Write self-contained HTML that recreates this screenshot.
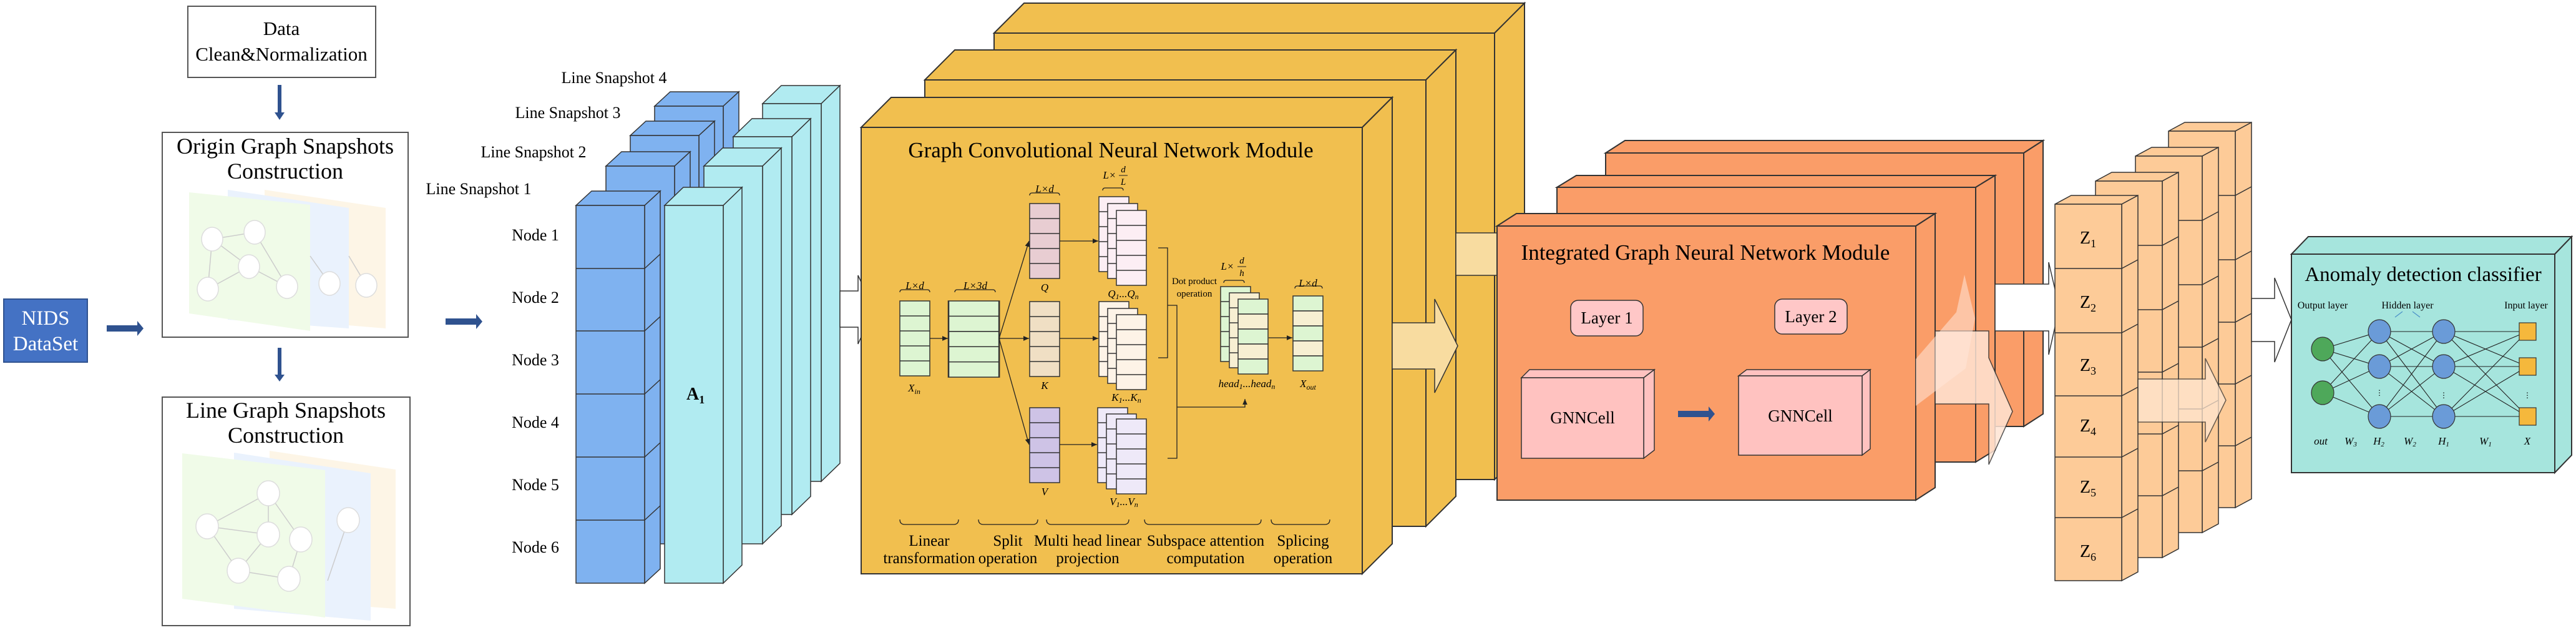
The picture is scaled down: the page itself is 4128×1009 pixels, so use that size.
<!DOCTYPE html>
<html><head><meta charset="utf-8"><style>html,body{margin:0;padding:0;background:#fff}svg{display:block}svg text{font-family:"Liberation Serif","Times New Roman",serif}</style></head>
<body>
<svg width="4128" height="1009" viewBox="0 0 4128 1009" xmlns="http://www.w3.org/2000/svg">
<defs>
<g id="c5"><rect x="0" y="0" width="48" height="120" stroke="#333" stroke-width="1.5"/><line x1="0" y1="24" x2="48" y2="24" stroke="#333" stroke-width="1.5"/><line x1="0" y1="48" x2="48" y2="48" stroke="#333" stroke-width="1.5"/><line x1="0" y1="72" x2="48" y2="72" stroke="#333" stroke-width="1.5"/><line x1="0" y1="96" x2="48" y2="96" stroke="#333" stroke-width="1.5"/></g>
<marker id="ah" markerWidth="8" markerHeight="8" refX="7" refY="4" orient="auto"><path d="M0,1 L7,4 L0,7 z" fill="#222"/></marker>
</defs>

<rect x="301" y="10" width="301" height="114" fill="#fff" stroke="#555" stroke-width="2"/>
<text x="451" y="56" font-size="31" text-anchor="middle">Data</text>
<text x="451" y="97" font-size="31" text-anchor="middle">Clean&amp;Normalization</text>
<rect x="445" y="136" width="6" height="46" fill="#2F528F"/><polygon points="440,180 456,180 448,192" fill="#2F528F"/>

<rect x="260" y="212" width="394" height="328" fill="#fff" stroke="#555" stroke-width="2"/>
<text x="457" y="246" font-size="36" text-anchor="middle">Origin Graph Snapshots</text>
<text x="457" y="286" font-size="36" text-anchor="middle">Construction</text>
<polygon points="424,304 618,333 618,526 424,510" fill="#FDF5E6"/>
<polygon points="365,304 559,333 559,526 365,512" fill="#EAF2FD"/>
<polygon points="303,308 497,328 497,530 303,502" fill="#F0FBE8"/>
<g stroke="#ccc" stroke-width="1.5" fill="none"><line x1="340" y1="383" x2="408" y2="372"/><line x1="340" y1="383" x2="399" y2="427"/><line x1="340" y1="383" x2="333" y2="463"/><line x1="408" y1="372" x2="460" y2="459"/><line x1="399" y1="427" x2="333" y2="463"/><line x1="399" y1="427" x2="460" y2="459"/><line x1="497" y1="410" x2="528" y2="454"/><line x1="559" y1="410" x2="587" y2="457"/></g>
<g fill="#fff" stroke="#ddd" stroke-width="1.5"><ellipse cx="340" cy="383" rx="17" ry="19"/><ellipse cx="408" cy="372" rx="17" ry="19"/><ellipse cx="399" cy="427" rx="17" ry="19"/><ellipse cx="333" cy="463" rx="17" ry="19"/><ellipse cx="460" cy="459" rx="17" ry="19"/><ellipse cx="528" cy="454" rx="17" ry="19"/><ellipse cx="587" cy="457" rx="17" ry="19"/></g>
<rect x="445" y="557" width="6" height="44" fill="#2F528F"/><polygon points="440,600 456,600 448,611" fill="#2F528F"/>

<rect x="260" y="636" width="397" height="366" fill="#fff" stroke="#555" stroke-width="2"/>
<text x="458" y="669" font-size="36" text-anchor="middle">Line Graph Snapshots</text>
<text x="458" y="709" font-size="36" text-anchor="middle">Construction</text>
<polygon points="432,722 634,752 634,975 432,960" fill="#FDF5E6"/>
<polygon points="375,725 594,758 594,994 375,975" fill="#EAF2FD"/>
<polygon points="292,726 521,753 521,989 292,959" fill="#F0FBE8"/>
<g stroke="#ccc" stroke-width="1.5"><line x1="332" y1="843" x2="430" y2="790"/><line x1="332" y1="843" x2="430" y2="856"/><line x1="332" y1="843" x2="382" y2="914"/><line x1="430" y1="790" x2="430" y2="856"/><line x1="430" y1="790" x2="482" y2="864"/><line x1="430" y1="856" x2="382" y2="914"/><line x1="382" y1="914" x2="463" y2="927"/><line x1="482" y1="864" x2="463" y2="927"/><line x1="558" y1="833" x2="525" y2="930"/></g>
<g fill="#fff" stroke="#ddd" stroke-width="1.5"><ellipse cx="332" cy="843" rx="18" ry="20"/><ellipse cx="430" cy="790" rx="18" ry="20"/><ellipse cx="430" cy="856" rx="18" ry="20"/><ellipse cx="482" cy="864" rx="18" ry="20"/><ellipse cx="382" cy="914" rx="18" ry="20"/><ellipse cx="463" cy="927" rx="18" ry="20"/><ellipse cx="558" cy="833" rx="18" ry="20"/></g>

<rect x="6" y="479" width="134" height="101" fill="#4472C4" stroke="#2F528F" stroke-width="2"/>
<text x="73" y="520" font-size="33" fill="#fff" text-anchor="middle">NIDS</text>
<text x="73" y="561" font-size="33" fill="#fff" text-anchor="middle">DataSet</text>
<rect x="171" y="521" width="50" height="10" fill="#2F528F"/><polygon points="220,514 230,526 220,538" fill="#2F528F"/>
<rect x="714" y="510" width="50" height="10" fill="#2F528F"/><polygon points="763,503 773,515 763,527" fill="#2F528F"/>

<g font-size="26" text-anchor="middle">
<text x="984" y="133">Line Snapshot 4</text><text x="910" y="189">Line Snapshot 3</text><text x="855" y="252">Line Snapshot 2</text><text x="767" y="311">Line Snapshot 1</text>
<text x="858" y="385">Node 1</text><text x="858" y="485">Node 2</text><text x="858" y="585">Node 3</text><text x="858" y="685">Node 4</text><text x="858" y="785">Node 5</text><text x="858" y="885">Node 6</text>
</g>

<g stroke="#333" stroke-width="1.5">
<polygon points="1049,170 1074,147 1184,147 1159,170" fill="#7FB2F0"/><polygon points="1159,170 1184,147 1184,752 1159,775" fill="#7FB2F0"/><rect x="1049" y="170" width="110" height="605" fill="#7FB2F0"/>
<polygon points="1222,166 1252,137 1346,137 1316,166" fill="#B1EBF1"/><polygon points="1316,166 1346,137 1346,742 1316,771" fill="#B1EBF1"/><rect x="1222" y="166" width="94" height="605" fill="#B1EBF1"/>
<polygon points="1010,217 1035,194 1145,194 1120,217" fill="#7FB2F0"/><polygon points="1120,217 1145,194 1145,799 1120,822" fill="#7FB2F0"/><rect x="1010" y="217" width="110" height="605" fill="#7FB2F0"/>
<polygon points="1175,219 1205,190 1299,190 1269,219" fill="#B1EBF1"/><polygon points="1269,219 1299,190 1299,795 1269,824" fill="#B1EBF1"/><rect x="1175" y="219" width="94" height="605" fill="#B1EBF1"/>
<polygon points="971,266 996,243 1106,243 1081,266" fill="#7FB2F0"/><polygon points="1081,266 1106,243 1106,848 1081,871" fill="#7FB2F0"/><rect x="971" y="266" width="110" height="605" fill="#7FB2F0"/>
<polygon points="1128,266 1158,237 1252,237 1222,266" fill="#B1EBF1"/><polygon points="1222,266 1252,237 1252,842 1222,871" fill="#B1EBF1"/><rect x="1128" y="266" width="94" height="605" fill="#B1EBF1"/>
<polygon points="923,329 948,306 1058,306 1033,329" fill="#7FB2F0"/><polygon points="1033,329 1058,306 1058,911 1033,934" fill="#7FB2F0"/><rect x="923" y="329" width="110" height="605" fill="#7FB2F0"/>
<line x1="923" y1="430" x2="1033" y2="430"/><line x1="923" y1="530" x2="1033" y2="530"/><line x1="923" y1="631" x2="1033" y2="631"/><line x1="923" y1="732" x2="1033" y2="732"/><line x1="923" y1="833" x2="1033" y2="833"/>
<line x1="1033" y1="430" x2="1058" y2="407"/><line x1="1033" y1="530" x2="1058" y2="507"/><line x1="1033" y1="631" x2="1058" y2="608"/><line x1="1033" y1="732" x2="1058" y2="709"/><line x1="1033" y1="833" x2="1058" y2="810"/>
<polygon points="1065,329 1095,300 1189,300 1159,329" fill="#B1EBF1"/><polygon points="1159,329 1189,300 1189,905 1159,934" fill="#B1EBF1"/><rect x="1065" y="329" width="94" height="605" fill="#B1EBF1"/>
</g>
<text x="1100" y="640" font-size="28" font-weight="bold">A<tspan font-size="18" dy="6">1</tspan></text>

<polygon points="1346,466 1375,466 1375,441 1400,495 1375,551 1375,524 1346,524" fill="#fff" stroke="#333" stroke-width="1.5"/>

<g stroke="#333" stroke-width="2" fill="#F1BF4F">
<polygon points="1593,53 1641,5 2443,5 2395,53"/><polygon points="2395,53 2443,5 2443,720 2395,768"/><rect x="1593" y="53" width="802" height="715"/>
<polygon points="1482,128 1530,80 2333,80 2285,128"/><polygon points="2285,128 2333,80 2333,795 2285,843"/><rect x="1482" y="128" width="803" height="715"/>
<polygon points="1380,204 1428,156 2231,156 2183,204"/><polygon points="2183,204 2231,156 2231,871 2183,919"/><rect x="1380" y="204" width="803" height="715"/>
</g>
<rect x="2333" y="373" width="66" height="68" fill="#F8DCA0" stroke="#333" stroke-width="1.5"/>
<text x="1780" y="252" font-size="35" text-anchor="middle">Graph Convolutional Neural Network Module</text>

<g font-style="italic" font-size="17" text-anchor="middle">
<use href="#c5" x="1442" y="482" fill="#DDF5D2"/>
<g transform="translate(1520,482) scale(1.69,1.017)"><use href="#c5" fill="#DDF5D2"/></g>
<use href="#c5" x="1650" y="326" fill="#E8CDD2"/>
<use href="#c5" x="1650" y="483" fill="#F0DFC4"/>
<use href="#c5" x="1650" y="653" fill="#CEC3E6"/>
<use href="#c5" x="1761" y="315" fill="#FCEEF4"/><use href="#c5" x="1775" y="326" fill="#FCEEF4"/><use href="#c5" x="1789" y="337" fill="#FCEEF4"/>
<use href="#c5" x="1761" y="483" fill="#FDF3E7"/><use href="#c5" x="1775" y="494" fill="#FDF3E7"/><use href="#c5" x="1789" y="504" fill="#FDF3E7"/>
<use href="#c5" x="1759" y="653" fill="#EEE9F8"/><use href="#c5" x="1773" y="663" fill="#EEE9F8"/><use href="#c5" x="1789" y="671" fill="#EEE9F8"/>
<use href="#c5" x="1956" y="459" fill="#DDF5D2"/><use href="#c5" x="1970" y="469" fill="#F7EFD2"/>
<g stroke="#333" stroke-width="1.5"><rect x="1984" y="479" width="48" height="24" fill="#DDF5D2"/><rect x="1984" y="503" width="48" height="24" fill="#F7EFD2"/><rect x="1984" y="527" width="48" height="24" fill="#DDF5D2"/><rect x="1984" y="551" width="48" height="24" fill="#F7EFD2"/><rect x="1984" y="575" width="48" height="24" fill="#DDF5D2"/>
<rect x="2072" y="474" width="48" height="24" fill="#DDF5D2"/><rect x="2072" y="498" width="48" height="24" fill="#F7EFD2"/><rect x="2072" y="522" width="48" height="24" fill="#DDF5D2"/><rect x="2072" y="546" width="48" height="24" fill="#F7EFD2"/><rect x="2072" y="570" width="48" height="24" fill="#DDF5D2"/></g>
<g stroke="#222" stroke-width="1.3" fill="none">
<line x1="1490" y1="542" x2="1519" y2="542" marker-end="url(#ah)"/>
<line x1="1601" y1="542" x2="1649" y2="386" marker-end="url(#ah)"/>
<line x1="1601" y1="542" x2="1649" y2="542" marker-end="url(#ah)"/>
<line x1="1601" y1="542" x2="1649" y2="712" marker-end="url(#ah)"/>
<line x1="1698" y1="386" x2="1760" y2="386" marker-end="url(#ah)"/>
<line x1="1698" y1="542" x2="1760" y2="542" marker-end="url(#ah)"/>
<line x1="1698" y1="712" x2="1758" y2="712" marker-end="url(#ah)"/>
<polyline points="1856,397 1871,397 1871,573 1856,573"/>
<polyline points="1871,489 1886,489 1886,734 1871,734"/>
<polyline points="1886,652 1995,652 1995,639" marker-end="url(#ah)"/>
<line x1="2033" y1="541" x2="2071" y2="541" marker-end="url(#ah)"/>
<path d="M1442,468 q0,-4 4,-4 h40 q4,0 4,4"/><path d="M1530,468 q0,-4 4,-4 h57 q4,0 4,4"/><path d="M1650,313 q0,-4 4,-4 h40 q4,0 4,4"/><path d="M1767,305 q0,-4 4,-4 h25 q4,0 4,4"/><path d="M1961,453 q0,-4 4,-4 h25 q4,0 4,4"/><path d="M2075,462 q0,-4 4,-4 h36 q4,0 4,4"/>
<path d="M1442,832 q0,8 8,8 h78 q8,0 8,-8"/><path d="M1568,832 q0,8 8,8 h79 q8,0 8,-8"/><path d="M1677,832 q0,8 8,8 h116 q8,0 8,-8"/><path d="M1834,832 q0,8 8,8 h171 q8,0 8,-8"/><path d="M2037,832 q0,8 8,8 h78 q8,0 8,-8"/>
</g>
<text x="1466" y="463">L×d</text><text x="1563" y="463">L×3d</text><text x="1674" y="308">L×d</text><text x="2096" y="459">L×d</text>
<text x="1778" y="286">L×</text><text x="1800" y="276" font-size="15">d</text><line x1="1793" y1="281" x2="1807" y2="281" stroke="#222"/><text x="1800" y="296" font-size="15">L</text>
<text x="1967" y="432">L×</text><text x="1990" y="422" font-size="15">d</text><line x1="1983" y1="427" x2="1997" y2="427" stroke="#222"/><text x="1990" y="442" font-size="15">h</text>
<text x="1465" y="627">X<tspan font-size="12" dy="4">in</tspan></text>
<text x="1674" y="466">Q</text><text x="1674" y="623">K</text><text x="1674" y="793">V</text>
<text x="1800" y="476">Q<tspan font-size="12" dy="3">1</tspan><tspan dy="-3">...Q</tspan><tspan font-size="12" dy="3">n</tspan></text>
<text x="1805" y="642">K<tspan font-size="12" dy="3">1</tspan><tspan dy="-3">...K</tspan><tspan font-size="12" dy="3">n</tspan></text>
<text x="1801" y="809">V<tspan font-size="12" dy="3">1</tspan><tspan dy="-3">...V</tspan><tspan font-size="12" dy="3">n</tspan></text>
<text x="1998" y="620">head<tspan font-size="12" dy="3">1</tspan><tspan dy="-3">...head</tspan><tspan font-size="12" dy="3">n</tspan></text>
<text x="2096" y="620">X<tspan font-size="12" dy="4">out</tspan></text>
</g>
<text x="1914" y="455" font-size="15" text-anchor="middle">Dot product</text>
<text x="1914" y="475" font-size="15" text-anchor="middle">operation</text>
<g font-size="25" text-anchor="middle">
<text x="1489" y="874">Linear</text><text x="1489" y="902">transformation</text>
<text x="1615" y="874">Split</text><text x="1615" y="902">operation</text>
<text x="1743" y="874">Multi head linear</text><text x="1743" y="902">projection</text>
<text x="1932" y="874">Subspace attention</text><text x="1932" y="902">computation</text>
<text x="2088" y="874">Splicing</text><text x="2088" y="902">operation</text>
</g>

<polygon points="2231,517 2299,517 2299,479 2336,554 2299,629 2299,591 2231,591" fill="#F8DCA0" stroke="#333" stroke-width="1.5"/>

<g stroke="#333" stroke-width="2" fill="#FA9D68">
<polygon points="2573,245 2604,225 3274,225 3243,245"/><polygon points="3243,245 3274,225 3274,663 3243,683"/><rect x="2573" y="245" width="670" height="438"/>
<polygon points="2495,300 2526,281 3197,281 3166,300"/><polygon points="3166,300 3197,281 3197,721 3166,740"/><rect x="2495" y="300" width="671" height="440"/>
<polygon points="2399,362 2430,342 3101,342 3070,362"/><polygon points="3070,362 3101,342 3101,781 3070,801"/><rect x="2399" y="362" width="671" height="439"/>
</g>
<text x="2733" y="416" font-size="35" text-anchor="middle">Integrated Graph Neural Network Module</text>
<rect x="2517" y="481" width="116" height="57" rx="12" fill="#FFC7C7" stroke="#333" stroke-width="1.5"/>
<text x="2575" y="518" font-size="27" text-anchor="middle">Layer 1</text>
<rect x="2844" y="479" width="116" height="56" rx="12" fill="#FFC7C7" stroke="#333" stroke-width="1.5"/>
<text x="2902" y="516" font-size="27" text-anchor="middle">Layer 2</text>
<g stroke="#333" stroke-width="1.5" fill="#FFC2C0">
<polygon points="2438,605 2451,592 2651,592 2634,605"/><polygon points="2634,605 2651,592 2651,721 2634,734"/><rect x="2438" y="605" width="196" height="129"/>
<polygon points="2786,602 2799,592 2997,592 2984,602"/><polygon points="2984,602 2997,592 2997,719 2984,729"/><rect x="2786" y="602" width="198" height="127"/>
</g>
<text x="2536" y="678" font-size="27" text-anchor="middle">GNNCell</text>
<text x="2885" y="675" font-size="27" text-anchor="middle">GNNCell</text>
<rect x="2689" y="658" width="50" height="10" fill="#2F528F"/><polygon points="2738,651 2748,663 2738,675" fill="#2F528F"/>

<polygon points="3197,455 3283,455 3283,420 3300,493 3283,568 3283,530 3197,530" fill="#fff" stroke="#333" stroke-width="1.5"/>
<polygon points="3101,530 3187,530 3187,573 3225,659 3187,744 3187,647 3101,647" fill="#FFE4D4" stroke="#333" stroke-width="1.5" opacity="0.85"/>
<polygon points="3070,575 3135,500 3148,440 3165,510 3150,590 3070,650" fill="#FFE6D8" opacity="0.55"/>

<g stroke="#333" stroke-width="1.5" fill="#FDCB98">
<polygon points="3475,210 3501,196 3608,196 3582,210"/><polygon points="3582,210 3608,196 3608,799 3582,813"/><rect x="3475" y="210" width="107" height="603"/>
<polyline fill="none" points="3475,313 3582,313 3608,299"/><polyline fill="none" points="3475,416 3582,416 3608,402"/><polyline fill="none" points="3475,516 3582,516 3608,502"/><polyline fill="none" points="3475,615 3582,615 3608,601"/><polyline fill="none" points="3475,714 3582,714 3608,700"/>
<polygon points="3422,250 3448,236 3555,236 3529,250"/><polygon points="3529,250 3555,236 3555,839 3529,853"/><rect x="3422" y="250" width="107" height="603"/>
<polyline fill="none" points="3422,353 3529,353 3555,339"/><polyline fill="none" points="3422,456 3529,456 3555,442"/><polyline fill="none" points="3422,556 3529,556 3555,542"/><polyline fill="none" points="3422,655 3529,655 3555,641"/><polyline fill="none" points="3422,754 3529,754 3555,740"/>
<polygon points="3358,290 3384,276 3491,276 3465,290"/><polygon points="3465,290 3491,276 3491,879 3465,893"/><rect x="3358" y="290" width="107" height="603"/>
<polyline fill="none" points="3358,393 3465,393 3491,379"/><polyline fill="none" points="3358,496 3465,496 3491,482"/><polyline fill="none" points="3358,596 3465,596 3491,582"/><polyline fill="none" points="3358,695 3465,695 3491,681"/><polyline fill="none" points="3358,794 3465,794 3491,780"/>
<polygon points="3293,327 3319,313 3426,313 3400,327"/><polygon points="3400,327 3426,313 3426,916 3400,930"/><rect x="3293" y="327" width="107" height="603"/>
<polyline fill="none" points="3293,430 3400,430 3426,416"/><polyline fill="none" points="3293,533 3400,533 3426,519"/><polyline fill="none" points="3293,634 3400,634 3426,620"/><polyline fill="none" points="3293,732 3400,732 3426,718"/><polyline fill="none" points="3293,829 3400,829 3426,815"/>
</g>
<g font-size="28" text-anchor="middle">
<text x="3346" y="390">Z<tspan font-size="18" dy="6">1</tspan></text><text x="3346" y="493">Z<tspan font-size="18" dy="6">2</tspan></text><text x="3346" y="594">Z<tspan font-size="18" dy="6">3</tspan></text><text x="3346" y="691">Z<tspan font-size="18" dy="6">4</tspan></text><text x="3346" y="789">Z<tspan font-size="18" dy="6">5</tspan></text><text x="3346" y="892">Z<tspan font-size="18" dy="6">6</tspan></text>
</g>
<polygon points="3426,607 3534,607 3534,574 3567,641 3534,708 3534,676 3426,676" fill="#FFE6D0" stroke="#333" stroke-width="1.5" opacity="0.75"/>
<polygon points="3608,478 3645,478 3645,445 3672,512 3645,580 3645,547 3608,547" fill="#fff" stroke="#333" stroke-width="1.5"/>

<g stroke="#333" stroke-width="2" fill="#A6E5DD">
<polygon points="3672,407 3699,379 4121,379 4094,407"/><polygon points="4094,407 4121,379 4121,729 4094,757"/><rect x="3672" y="407" width="422" height="350"/>
</g>
<text x="3883" y="450" font-size="33" text-anchor="middle">Anomaly detection classifier</text>
<g font-size="16" text-anchor="middle"><text x="3722" y="494">Output layer</text><text x="3858" y="494">Hidden layer</text><text x="4048" y="494">Input layer</text></g>
<g stroke="#4A90C8" stroke-width="1.2"><line x1="3850" y1="499" x2="3838" y2="508"/><line x1="3866" y1="499" x2="3878" y2="508"/></g>
<g stroke="#222" stroke-width="1.1">
<line x1="3722" y1="559" x2="3813" y2="531"/><line x1="3722" y1="559" x2="3813" y2="587"/><line x1="3722" y1="559" x2="3813" y2="667"/><line x1="3722" y1="629" x2="3813" y2="531"/><line x1="3722" y1="629" x2="3813" y2="587"/><line x1="3722" y1="629" x2="3813" y2="667"/>
<line x1="3813" y1="531" x2="3916" y2="531"/><line x1="3813" y1="531" x2="3916" y2="587"/><line x1="3813" y1="531" x2="3916" y2="667"/><line x1="3813" y1="587" x2="3916" y2="531"/><line x1="3813" y1="587" x2="3916" y2="587"/><line x1="3813" y1="587" x2="3916" y2="667"/><line x1="3813" y1="667" x2="3916" y2="531"/><line x1="3813" y1="667" x2="3916" y2="587"/><line x1="3813" y1="667" x2="3916" y2="667"/>
<line x1="3916" y1="531" x2="4050" y2="531"/><line x1="3916" y1="531" x2="4050" y2="587"/><line x1="3916" y1="531" x2="4050" y2="667"/><line x1="3916" y1="587" x2="4050" y2="531"/><line x1="3916" y1="587" x2="4050" y2="587"/><line x1="3916" y1="587" x2="4050" y2="667"/><line x1="3916" y1="667" x2="4050" y2="531"/><line x1="3916" y1="667" x2="4050" y2="587"/><line x1="3916" y1="667" x2="4050" y2="667"/>
</g>
<g stroke="#333" stroke-width="1.2">
<ellipse cx="3722" cy="559" rx="18" ry="19" fill="#4EA85A"/><ellipse cx="3722" cy="629" rx="18" ry="19" fill="#4EA85A"/>
<ellipse cx="3813" cy="531" rx="18" ry="19" fill="#6A9BD8"/><ellipse cx="3813" cy="587" rx="18" ry="19" fill="#6A9BD8"/><ellipse cx="3813" cy="667" rx="18" ry="19" fill="#6A9BD8"/>
<ellipse cx="3916" cy="531" rx="18" ry="19" fill="#6A9BD8"/><ellipse cx="3916" cy="587" rx="18" ry="19" fill="#6A9BD8"/><ellipse cx="3916" cy="667" rx="18" ry="19" fill="#6A9BD8"/>
<rect x="4037" y="517" width="27" height="28" fill="#F5B83C"/><rect x="4037" y="573" width="27" height="28" fill="#F5B83C"/><rect x="4037" y="653" width="27" height="28" fill="#F5B83C"/>
</g>
<g font-size="12" text-anchor="middle"><text x="3813" y="633">⋮</text><text x="3916" y="637">⋮</text><text x="4050" y="637">⋮</text></g>
<g font-size="17" font-style="italic" text-anchor="middle">
<text x="3719" y="712">out</text><text x="3767" y="712">W<tspan font-size="11" dy="3">3</tspan></text><text x="3812" y="712">H<tspan font-size="11" dy="3">2</tspan></text><text x="3862" y="712">W<tspan font-size="11" dy="3">2</tspan></text><text x="3916" y="712">H<tspan font-size="11" dy="3">1</tspan></text><text x="3983" y="712">W<tspan font-size="11" dy="3">1</tspan></text><text x="4050" y="712">X</text>
</g>
</svg>
</body></html>
